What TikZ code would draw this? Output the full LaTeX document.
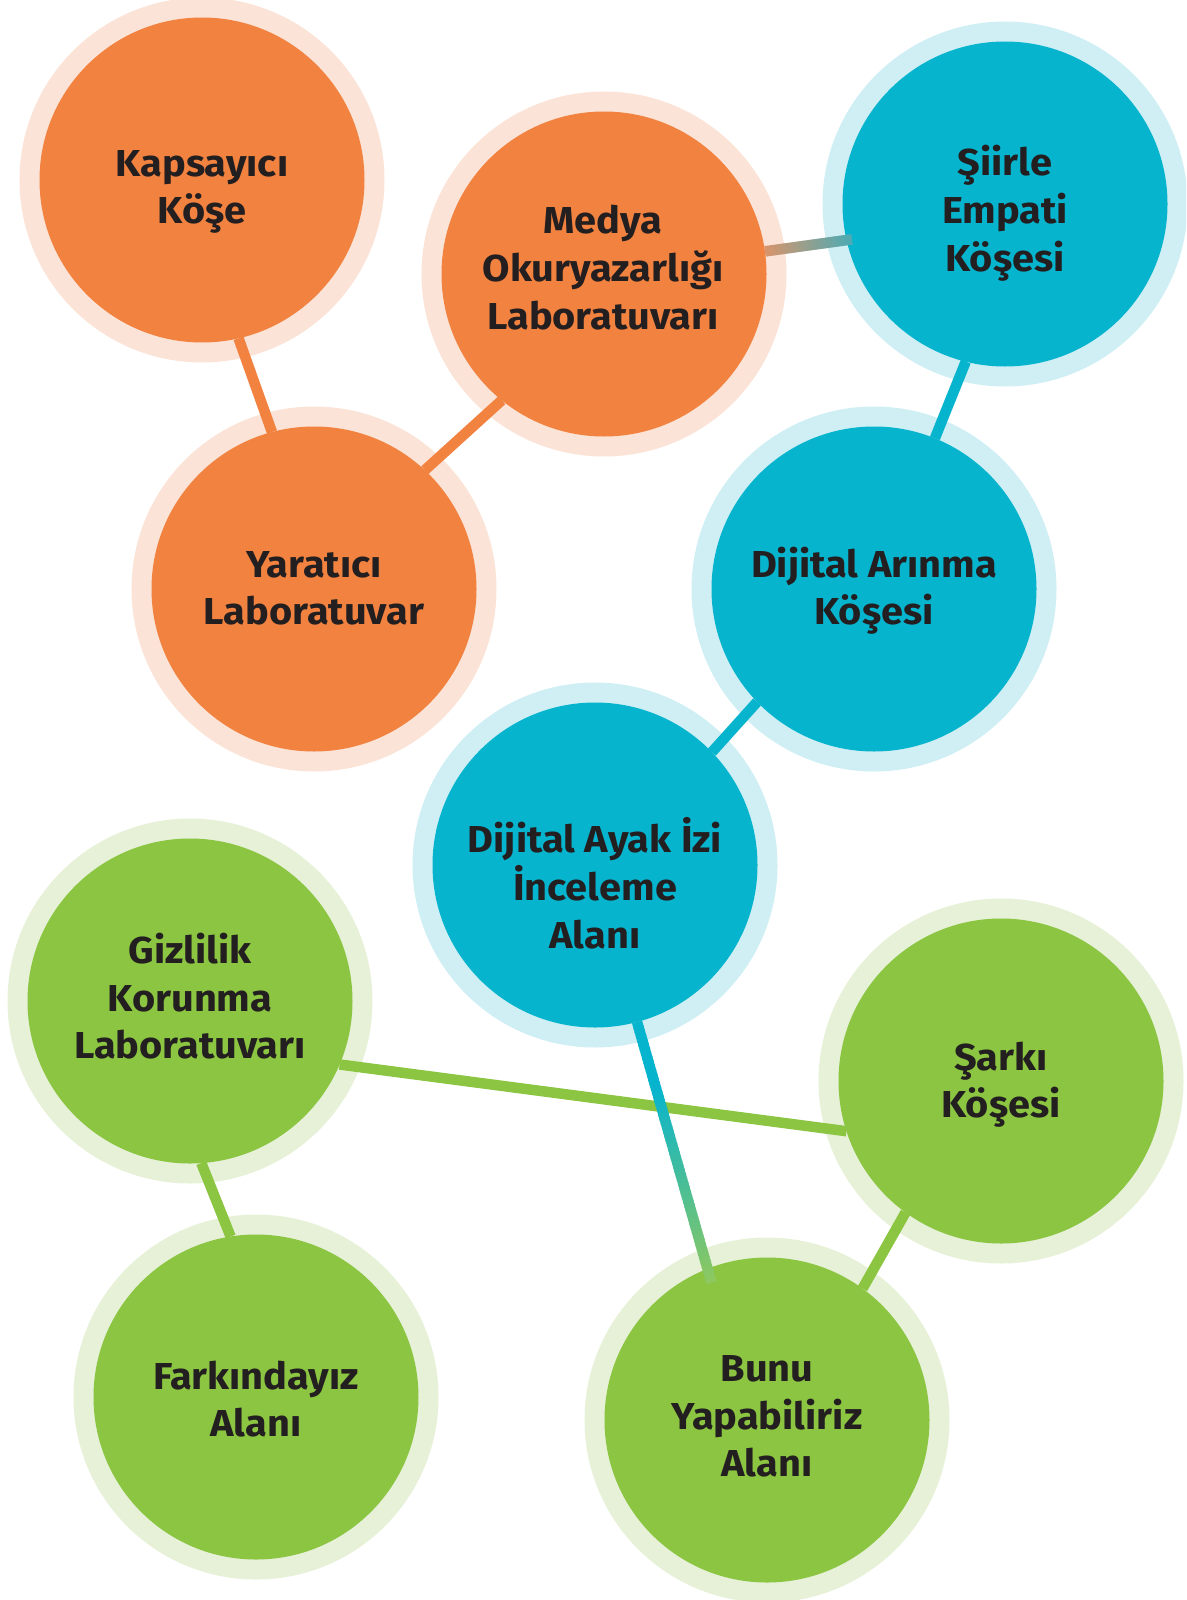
\documentclass[tikz,border=0pt]{standalone}
\usepackage{fontspec}
\setmainfont{Fira Sans}[FakeStretch=1.06]
\usetikzlibrary{calc}
\definecolor{orF}{HTML}{F28240}
\definecolor{orR}{HTML}{FBE4D7}
\definecolor{tlF}{HTML}{07B4CE}
\definecolor{tlR}{HTML}{D0EFF4}
\definecolor{grF}{HTML}{8BC541}
\definecolor{grR}{HTML}{E6F1D8}
\definecolor{txt}{HTML}{231F20}
\definecolor{gA}{HTML}{D8956B}
\definecolor{gB}{HTML}{4DAAB4}
\definecolor{gC}{HTML}{8DC860}
\newcommand\Tstr{\rule{0pt}{40pt}}
\newcommand\Bstr{\rule[-12pt]{0pt}{12pt}}
\newcommand\gradlink[5]{%
  \foreach \i in {0,...,59}{%
    \pgfmathsetmacro\ta{\i/60}%
    \pgfmathsetmacro\tb{min(1,(\i+1.5)/60)}%
    \pgfmathsetmacro\pc{100*max(0,min(1,(\i/59-#5)/(1-#5)))}%
    \colorlet{segc}{#4!\pc!#3}%
    \draw[line width=10.5pt, segc] ($(#1)!\ta!(#2)$) -- ($(#1)!\tb!(#2)$);
  }}
\tikzset{
  circ/.style={circle, minimum size=325pt, inner sep=0pt, outer sep=0pt,
    fill=#1F, preaction={draw=#1R, line width=40pt}},
  lbl/.style={align=center, inner sep=0pt, text=txt,
    font=\fontsize{37.5}{47.6}\selectfont\bfseries},
  link/.style={line width=10.5pt, draw=#1F},
}
\begin{document}
\begin{tikzpicture}[x=1pt,y=1pt]
\useasboundingbox (0,0) rectangle (1186,-1600);
\clip (0,0) rectangle (1186,-1600);
% circles
\node[circ=or] (kap) at (202,-180) {};
\node[circ=or] (med) at (604,-274) {};
\node[circ=tl] (sii) at (1005,-204) {};
\node[circ=or] (yar) at (314,-589) {};
\node[circ=tl] (ari) at (874,-589) {};
\node[circ=tl] (aya) at (595,-865) {};
\node[circ=gr] (giz) at (190,-1001) {};
\node[circ=gr] (sar) at (1001,-1081) {};
\node[circ=gr] (far) at (256,-1397) {};
\node[circ=gr] (bun) at (767,-1420) {};
% connectors
\draw[link=or] (kap.-77) -- (yar.105);
\draw[link=or] (yar.47) -- (med.231);
\draw[link=tl] (sii.-104) -- (ari.68);
\draw[link=tl] (ari.224) -- (aya.44);
\draw[link=gr] (giz.-86) -- (far.99);
\draw[link=gr] (sar.-126) -- (bun.54);
\draw[link=gr] (giz.-23) -- (sar.198);
\coordinate (mA) at (med.8);
\coordinate (sA) at ($(sii.center)+(-167:157pt)$);
\gradlink{mA}{sA}{gA}{gB}{0}
\coordinate (aA) at (aya.-75);
\coordinate (bA) at ($(bun.center)+(112:148pt)$);
\gradlink{aA}{bA}{tlF}{gC}{0.25}
% labels
\node[lbl] (tkap) at (202,-186) {\Tstr Kapsayıcı\\Köşe\Bstr};
\node[lbl] (tmed) at (603,-267.5) {\Tstr Medya\\Okuryazarlığı\\Laboratuvarı\Bstr};
\node[lbl] (tsii) at (1005,-209.5) {\Tstr Şiirle\\Empati\\Köşesi\Bstr};
\node[lbl] (tyar) at (314,-587) {\Tstr Yaratıcı\\Laboratuvar\Bstr};
\node[lbl] (tari) at (874,-587) {\Tstr Dijital Arınma\\Köşesi\Bstr};
\node[lbl] (taya) at (595,-886.5) {\Tstr Dijital Ayak İzi\\İnceleme\\Alanı\Bstr};
\node[lbl] (tgiz) at (190,-997) {\Tstr Gizlilik\\Korunma\\Laboratuvarı\Bstr};
\node[lbl] (tsar) at (1001,-1080) {\Tstr Şarkı\\Köşesi\Bstr};
\node[lbl] (tfar) at (256,-1399) {\Tstr Farkındayız\\Alanı\Bstr};
\node[lbl] (tbun) at (767,-1415) {\Tstr Bunu\\Yapabiliriz\\Alanı\Bstr};
\end{tikzpicture}
\end{document}
